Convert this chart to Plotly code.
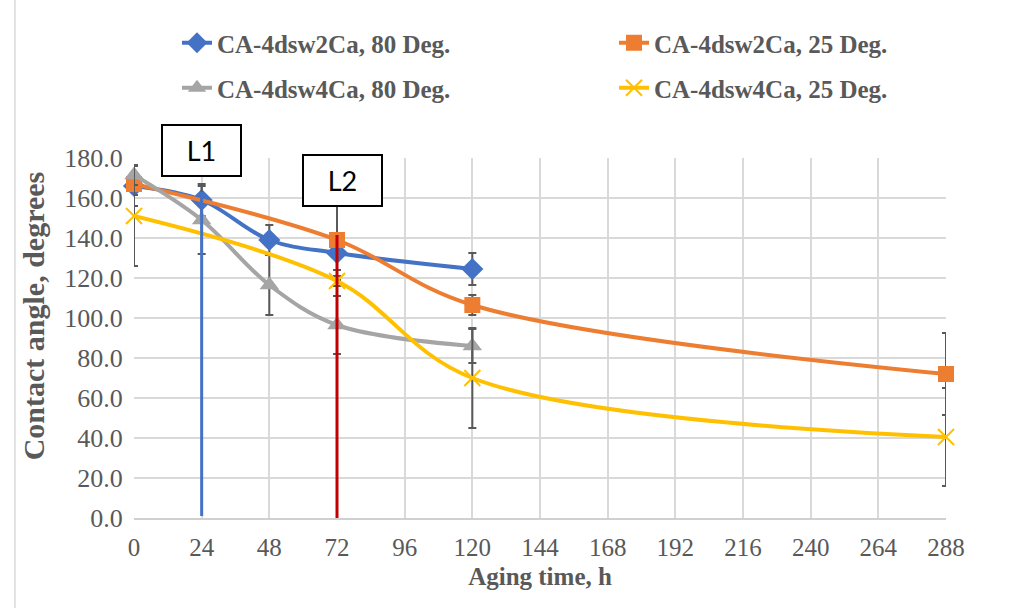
import plotly.graph_objects as go

# Aging time (h) and contact angle (degrees) per sample / temperature
t_2ca_80 = [0, 24, 48, 72, 120]
ca_2ca_80 = [166.0, 159.0, 139.0, 132.5, 124.5]
err_2ca_80 = [10.0, 8.0, 7.5, 8.5, 8.0]

t_2ca_25 = [0, 72, 120, 288]
ca_2ca_25 = [167.0, 139.0, 106.5, 72.0]
err_2ca_25 = [5.5, 20.0, 5.0, 20.5]

t_4ca_80 = [0, 24, 48, 72, 120]
ca_4ca_80 = [171.5, 149.0, 116.5, 96.5, 86.0]
err_4ca_80 = [5.0, 17.0, 15.0, 14.5, 8.5]

t_4ca_25 = [0, 72, 120, 288]
ca_4ca_25 = [151.0, 118.5, 70.0, 40.5]
err_4ca_25 = [25.0, 2.5, 25.0, 24.5]

series_names = ["CA-4dsw2Ca, 80 Deg.", "CA-4dsw2Ca, 25 Deg.",
                "CA-4dsw4Ca, 80 Deg.", "CA-4dsw4Ca, 25 Deg."]

# Marker lines L1 / L2: x position and vertical extent (degrees)
l1_x, l1_y = [24, 24], [163.0, 1.0]
l2_x, l2_y = [72, 72], [141.5, -3.5]
label_names = ["L1", "L2"]
label_x = [24, 74]

x_ticks = list(range(0, 289, 24))

BLUE = "#4472C4"
ORANGE = "#ED7D31"
GRAY = "#A5A5A5"
YELLOW = "#FFC000"
TXT = "#595959"
SERIF = "Liberation Serif"

fig = go.Figure()


def add_series(x, y, err, name, color, symbol, size, legend):
    fig.add_trace(go.Scatter(
        x=x, y=y, name=name, mode="lines+markers",
        line=dict(color=color, width=4, shape="spline", smoothing=1.0),
        marker=dict(symbol=symbol, size=size, color=color,
                    line=dict(width=0 if symbol != "x-thin" else 2, color=color)),
        error_y=dict(type="data", array=err, visible=True,
                     color=TXT, thickness=2, width=4),
        legend=legend, cliponaxis=False,
    ))


add_series(t_2ca_80, ca_2ca_80, err_2ca_80, series_names[0], BLUE, "diamond", 17, "legend")
add_series(t_2ca_25, ca_2ca_25, err_2ca_25, series_names[1], ORANGE, "square", 16, "legend2")
add_series(t_4ca_80, ca_4ca_80, err_4ca_80, series_names[2], GRAY, "triangle-up", 17, "legend3")
add_series(t_4ca_25, ca_4ca_25, err_4ca_25, series_names[3], YELLOW, "x-thin", 16, "legend4")

# Vertical marker lines
fig.add_trace(go.Scatter(x=l1_x, y=l1_y, mode="lines", showlegend=False,
                         line=dict(color=BLUE, width=3), cliponaxis=False,
                         hoverinfo="skip"))
fig.add_trace(go.Scatter(x=l2_x, y=l2_y, mode="lines", showlegend=False,
                         line=dict(color="#C00000", width=3), cliponaxis=False,
                         hoverinfo="skip"))

# Label boxes above the marker lines (vertical position in plot fractions)
label_y = [1.022, 0.9375]
for name, ax, ay in zip(label_names, label_x, label_y):
    fig.add_annotation(x=ax, y=ay, xref="x", yref="paper", text=name,
                       xanchor="center", yanchor="middle",
                       showarrow=False, width=77, height=49,
                       bordercolor="black", borderwidth=2, borderpad=0,
                       bgcolor="white",
                       font=dict(family="Lato", size=27, color="black"))

# Y-axis title, set slightly above the plot's vertical centre
fig.add_annotation(x=-0.124, y=0.561, xref="paper", yref="paper",
                   text="<b>Contact angle, degrees</b>", textangle=-90,
                   showarrow=False, xanchor="center", yanchor="middle",
                   font=dict(family=SERIF, size=30, color=TXT))

# Thin frame line on the left of the chart area
fig.add_shape(type="line", xref="paper", yref="paper",
              x0=-0.1466, x1=-0.1466, y0=-0.3, y1=1.5,
              line=dict(color="#D9D9D9", width=1.5))

legend_common = dict(orientation="h", xref="container", yref="container",
                     xanchor="left", yanchor="middle",
                     bgcolor="rgba(0,0,0,0)",
                     font=dict(family=SERIF, size=25, color=TXT, weight="bold"))

col_x = [177 / 1027, 614 / 1027]
row_y = [1 - 43 / 608, 1 - 88 / 608]

fig.update_layout(
    width=1027, height=608,
    margin=dict(l=134, r=81, t=158, b=90),
    paper_bgcolor="white", plot_bgcolor="white",
    showlegend=True,
    legend=dict(x=col_x[0], y=row_y[0], **legend_common),
    legend2=dict(x=col_x[1], y=row_y[0], **legend_common),
    legend3=dict(x=col_x[0], y=row_y[1], **legend_common),
    legend4=dict(x=col_x[1], y=row_y[1], **legend_common),
    xaxis=dict(
        range=[0, 288], tickvals=x_ticks, ticktext=[str(v) for v in x_ticks],
        showgrid=True, gridcolor="#D9D9D9", gridwidth=1.5,
        showline=True, linecolor="#D0D0D0", linewidth=1.5,
        zeroline=False, ticks="outside", ticklen=6, tickcolor="rgba(0,0,0,0)",
        tickfont=dict(family=SERIF, size=25, color=TXT),
        title=dict(text="Aging time, h", standoff=8,
                   font=dict(family=SERIF, size=25, color=TXT, weight="bold")),
    ),
    yaxis=dict(
        range=[0, 180], dtick=20, tickformat=".1f",
        showgrid=True, gridcolor="#D9D9D9", gridwidth=1.5,
        zeroline=False, ticks="outside", ticklen=5, tickcolor="rgba(0,0,0,0)",
        tickfont=dict(family=SERIF, size=26, color=TXT),
    ),
)

fig.write_html("out.html")
